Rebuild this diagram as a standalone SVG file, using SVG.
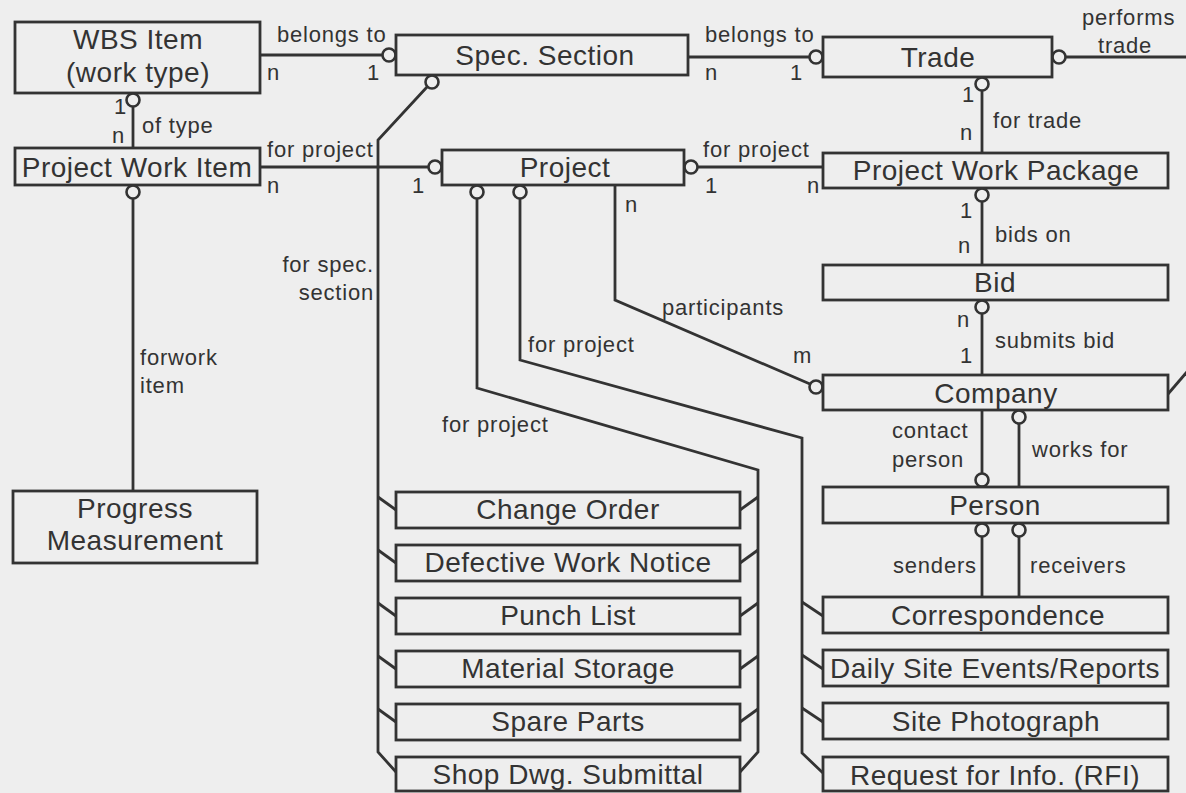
<svg xmlns="http://www.w3.org/2000/svg" width="1186" height="793" viewBox="0 0 1186 793">
<style>
.bg{fill:#eeeeee}
.box{fill:none;stroke:#333;stroke-width:2.8}
.ln{fill:none;stroke:#333;stroke-width:2.8;stroke-linejoin:miter}
.mk{fill:#eeeeee;stroke:#333;stroke-width:2.6}
.nt{font-family:"Liberation Sans",Arial,sans-serif;font-size:28px;letter-spacing:0.5px;fill:#333;text-anchor:middle}
.lb{font-family:"Liberation Sans",Arial,sans-serif;font-size:22px;letter-spacing:0.8px;fill:#333}
.end{text-anchor:end}
</style>
<rect class="bg" x="0" y="0" width="1186" height="793"/>

<g id="connectors">
  <!-- WBS -> Spec belongs to -->
  <line class="ln" x1="260" y1="55" x2="382" y2="55"/>
  <circle class="mk" cx="389" cy="55" r="6.5"/>
  <!-- Spec -> Trade belongs to -->
  <line class="ln" x1="688" y1="57" x2="809" y2="57"/>
  <circle class="mk" cx="816" cy="57" r="6.5"/>
  <!-- of type -->
  <circle class="mk" cx="133" cy="100" r="6.5"/>
  <line class="ln" x1="133" y1="107" x2="133" y2="148"/>
  <!-- PWI -> Project for project -->
  <line class="ln" x1="260" y1="167" x2="428" y2="167"/>
  <circle class="mk" cx="435" cy="167" r="6.5"/>
  <!-- Project -> PWP for project -->
  <circle class="mk" cx="691" cy="167" r="6.5"/>
  <line class="ln" x1="698" y1="167" x2="823" y2="167"/>
  <!-- for trade -->
  <circle class="mk" cx="982" cy="84" r="6.5"/>
  <line class="ln" x1="982" y1="91" x2="982" y2="153"/>
  <!-- bids on -->
  <circle class="mk" cx="982" cy="195" r="6.5"/>
  <line class="ln" x1="982" y1="202" x2="982" y2="265"/>
  <!-- submits bid -->
  <circle class="mk" cx="982" cy="307" r="6.5"/>
  <line class="ln" x1="982" y1="314" x2="982" y2="375"/>
  <!-- performs trade -->
  <circle class="mk" cx="1059" cy="57" r="6.5"/>
  <line class="ln" x1="1066" y1="57" x2="1192" y2="57"/>
  <line class="ln" x1="1168" y1="394" x2="1192" y2="366"/>
  <!-- participants -->
  <polyline class="ln" points="615,185 615,300 810,384"/>
  <circle class="mk" cx="816" cy="387" r="6.5"/>
  <!-- for spec. section -->
  <circle class="mk" cx="432" cy="82" r="6.5"/>
  <polyline class="ln" points="427,87 378,140 378,752 396,772"/>
  <line class="ln" x1="378" y1="497" x2="396" y2="510"/>
  <line class="ln" x1="378" y1="550" x2="396" y2="563"/>
  <line class="ln" x1="378" y1="603" x2="396" y2="616"/>
  <line class="ln" x1="378" y1="656" x2="396" y2="669"/>
  <line class="ln" x1="378" y1="709" x2="396" y2="722"/>
  <!-- for project (left group, right side) -->
  <circle class="mk" cx="477" cy="192" r="6.5"/>
  <polyline class="ln" points="477,199 477,388 758,470 758,752 740,772"/>
  <line class="ln" x1="758" y1="497" x2="740" y2="510"/>
  <line class="ln" x1="758" y1="550" x2="740" y2="563"/>
  <line class="ln" x1="758" y1="603" x2="740" y2="616"/>
  <line class="ln" x1="758" y1="656" x2="740" y2="669"/>
  <line class="ln" x1="758" y1="709" x2="740" y2="722"/>
  <!-- for project (right group) -->
  <circle class="mk" cx="520" cy="192" r="6.5"/>
  <polyline class="ln" points="520,199 520,360 802,438 802,753 823,773"/>
  <line class="ln" x1="802" y1="602" x2="823" y2="616"/>
  <line class="ln" x1="802" y1="655" x2="823" y2="669"/>
  <line class="ln" x1="802" y1="708" x2="823" y2="722"/>
  <!-- contact person -->
  <line class="ln" x1="982" y1="410" x2="982" y2="473"/>
  <circle class="mk" cx="982" cy="480" r="6.5"/>
  <!-- works for -->
  <circle class="mk" cx="1019" cy="417" r="6.5"/>
  <line class="ln" x1="1019" y1="424" x2="1019" y2="487"/>
  <!-- senders / receivers -->
  <circle class="mk" cx="982" cy="530" r="6.5"/>
  <line class="ln" x1="982" y1="537" x2="982" y2="597"/>
  <circle class="mk" cx="1019" cy="530" r="6.5"/>
  <line class="ln" x1="1019" y1="537" x2="1019" y2="597"/>
  <!-- for work item -->
  <circle class="mk" cx="133" cy="192" r="6.5"/>
  <line class="ln" x1="133" y1="199" x2="133" y2="491"/>

  <!-- labels -->
  <text class="lb" x="277" y="42">belongs to</text>
  <text class="lb" x="267" y="80">n</text>
  <text class="lb" x="367" y="80">1</text>
  <text class="lb" x="114" y="114">1</text>
  <text class="lb" x="142" y="133">of type</text>
  <text class="lb" x="112" y="143">n</text>
  <text class="lb" x="267" y="157">for project</text>
  <text class="lb" x="267" y="193">n</text>
  <text class="lb" x="412" y="193">1</text>
  <text class="lb end" x="374" y="272">for spec.</text>
  <text class="lb end" x="374" y="300">section</text>
  <text class="lb" x="705" y="42">belongs to</text>
  <text class="lb" x="705" y="80">n</text>
  <text class="lb" x="790" y="80">1</text>
  <text class="lb" x="1082" y="25">performs</text>
  <text class="lb" x="1098" y="53">trade</text>
  <text class="lb" x="703" y="157">for project</text>
  <text class="lb" x="705" y="193">1</text>
  <text class="lb" x="807" y="193">n</text>
  <text class="lb" x="962" y="102">1</text>
  <text class="lb" x="993" y="128">for trade</text>
  <text class="lb" x="960" y="140">n</text>
  <text class="lb" x="625" y="212">n</text>
  <text class="lb" x="662" y="315">participants</text>
  <text class="lb" x="528" y="352">for project</text>
  <text class="lb" x="442" y="432">for project</text>
  <text class="lb" x="140" y="365">forwork</text>
  <text class="lb" x="140" y="393">item</text>
  <text class="lb" x="960" y="218">1</text>
  <text class="lb" x="995" y="242">bids on</text>
  <text class="lb" x="958" y="253">n</text>
  <text class="lb" x="957" y="327">n</text>
  <text class="lb" x="995" y="348">submits bid</text>
  <text class="lb" x="960" y="363">1</text>
  <text class="lb" x="793" y="363">m</text>
  <text class="lb" x="892" y="438">contact</text>
  <text class="lb" x="892" y="467">person</text>
  <text class="lb" x="1032" y="457">works for</text>
  <text class="lb" x="893" y="573">senders</text>
  <text class="lb" x="1030" y="573">receivers</text>
</g>

<g id="wbs-item"><rect class="box" x="15" y="22" width="245" height="71"/><text class="nt" x="138" y="49">WBS Item</text><text class="nt" x="138" y="82">(work type)</text></g>
<g id="spec-section"><rect class="box" x="396" y="35" width="292" height="40"/><text class="nt" x="545" y="65">Spec. Section</text></g>
<g id="trade"><rect class="box" x="823" y="37" width="229" height="40"/><text class="nt" x="938" y="67">Trade</text></g>
<g id="project-work-item"><rect class="box" x="15" y="148" width="245" height="37"/><text class="nt" x="137" y="177">Project Work Item</text></g>
<g id="project"><rect class="box" x="442" y="150" width="242" height="35"/><text class="nt" x="565" y="177">Project</text></g>
<g id="project-work-package"><rect class="box" x="823" y="153" width="345" height="35"/><text class="nt" x="996" y="180">Project Work Package</text></g>
<g id="bid"><rect class="box" x="823" y="265" width="345" height="35"/><text class="nt" x="995" y="292">Bid</text></g>
<g id="company"><rect class="box" x="823" y="375" width="345" height="35"/><text class="nt" x="996" y="403">Company</text></g>
<g id="person"><rect class="box" x="823" y="487" width="345" height="36"/><text class="nt" x="995" y="515">Person</text></g>
<g id="progress-measurement"><rect class="box" x="13" y="491" width="244" height="72"/><text class="nt" x="135" y="518">Progress</text><text class="nt" x="135" y="550">Measurement</text></g>

<g id="change-order"><rect class="box" x="396" y="492" width="344" height="36"/><text class="nt" x="568" y="519">Change Order</text></g>
<g id="defective-work-notice"><rect class="box" x="396" y="545" width="344" height="36"/><text class="nt" x="568" y="572">Defective Work Notice</text></g>
<g id="punch-list"><rect class="box" x="396" y="598" width="344" height="36"/><text class="nt" x="568" y="625">Punch List</text></g>
<g id="material-storage"><rect class="box" x="396" y="651" width="344" height="36"/><text class="nt" x="568" y="678">Material Storage</text></g>
<g id="spare-parts"><rect class="box" x="396" y="704" width="344" height="36"/><text class="nt" x="568" y="731">Spare Parts</text></g>
<g id="shop-dwg-submittal"><rect class="box" x="396" y="757" width="344" height="34"/><text class="nt" x="568" y="784">Shop Dwg. Submittal</text></g>

<g id="correspondence"><rect class="box" x="823" y="597" width="345" height="36"/><text class="nt" x="998" y="625">Correspondence</text></g>
<g id="daily-site-events"><rect class="box" x="823" y="650" width="345" height="36"/><text class="nt" x="995" y="678">Daily Site Events/Reports</text></g>
<g id="site-photograph"><rect class="box" x="823" y="703" width="345" height="36"/><text class="nt" x="996" y="731">Site Photograph</text></g>
<g id="rfi"><rect class="box" x="823" y="757" width="345" height="34"/><text class="nt" x="995" y="785">Request for Info. (RFI)</text></g>
</svg>
